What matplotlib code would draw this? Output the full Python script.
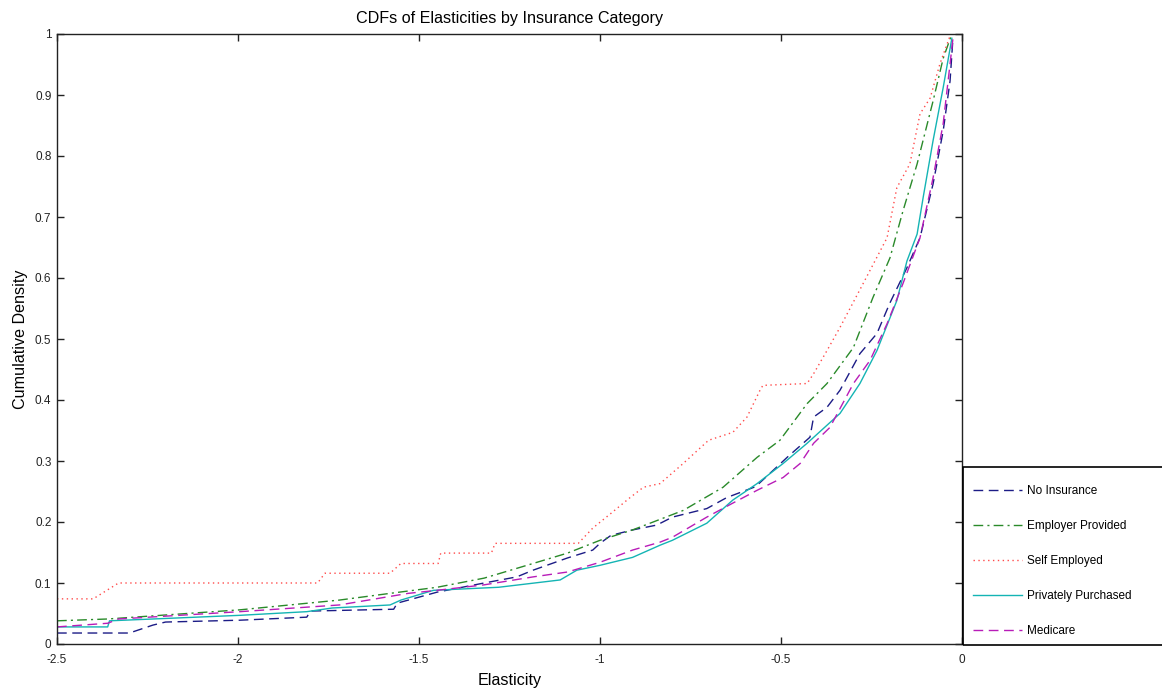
import matplotlib
matplotlib.use('Agg')
import matplotlib.pyplot as plt
import matplotlib.patches as patches

plt.rcParams['font.family'] = ['Liberation Sans', 'DejaVu Sans']

# ================= data =================
TITLE = 'CDFs of Elasticities by Insurance Category'
XLABEL = 'Elasticity'
YLABEL = 'Cumulative Density'

x_ticks = [-2.5, -2.0, -1.5, -1.0, -0.5, 0.0]
x_tick_labels = ['-2.5', '-2', '-1.5', '-1', '-0.5', '0']
y_ticks = [0, 0.1, 0.2, 0.3, 0.4, 0.5, 0.6, 0.7, 0.8, 0.9, 1.0]
y_tick_labels = ['0', '0.1', '0.2', '0.3', '0.4', '0.5', '0.6', '0.7', '0.8', '0.9', '1']

labels = ['No Insurance', 'Employer Provided', 'Self Employed',
          'Privately Purchased', 'Medicare']

no_ins_x = [-2.5, -2.30, -2.235, -2.2, -1.995, -1.81, -1.80, -1.57, -1.56, -1.45,
            -1.32, -1.23, -1.185, -1.09, -1.02, -1.0, -0.97, -0.91, -0.843, -0.80,
            -0.705, -0.65, -0.57, -0.483, -0.42, -0.41, -0.373, -0.337, -0.282,
            -0.235, -0.2, -0.152, -0.116, -0.08, -0.052, -0.033, -0.025]
no_ins_y = [0.018, 0.018, 0.031, 0.036, 0.039, 0.044, 0.054, 0.057, 0.067, 0.085,
            0.10, 0.11, 0.121, 0.141, 0.154, 0.165, 0.178, 0.187, 0.195, 0.208,
            0.222, 0.24, 0.258, 0.306, 0.339, 0.372, 0.388, 0.416, 0.476,
            0.509, 0.558, 0.617, 0.666, 0.754, 0.841, 0.923, 0.993]

employer_x = [-2.5, -2.36, -1.995, -1.72, -1.58, -1.45, -1.32, -1.185, -1.09, -1.0,
              -0.91, -0.77, -0.66, -0.566, -0.503, -0.428, -0.373, -0.30, -0.246,
              -0.199, -0.163, -0.124, -0.08, -0.052, -0.028]
employer_y = [0.038, 0.041, 0.056, 0.072, 0.083, 0.093, 0.108, 0.132, 0.149, 0.17,
              0.187, 0.219, 0.257, 0.306, 0.334, 0.394, 0.427, 0.486, 0.568,
              0.633, 0.71, 0.787, 0.89, 0.96, 1.0]

self_x = [-2.5, -2.40, -2.33, -1.78, -1.76, -1.58, -1.55, -1.447, -1.44, -1.30,
          -1.29, -1.06, -1.02, -0.97, -0.917, -0.88, -0.834, -0.77, -0.70, -0.633,
          -0.594, -0.558, -0.55, -0.428, -0.41, -0.373, -0.337, -0.273, -0.207,
          -0.18, -0.144, -0.116, -0.088, -0.061, -0.033]
self_y = [0.074, 0.074, 0.10, 0.10, 0.116, 0.116, 0.132, 0.132, 0.149, 0.149,
          0.165, 0.165, 0.19, 0.214, 0.24, 0.257, 0.263, 0.296, 0.334, 0.347,
          0.372, 0.416, 0.424, 0.427, 0.443, 0.481, 0.519, 0.591, 0.666,
          0.748, 0.787, 0.869, 0.895, 0.951, 0.997]

private_x = [-2.5, -2.36, -2.355, -1.995, -1.81, -1.74, -1.58, -1.55, -1.46, -1.28,
             -1.11, -1.064, -1.0, -0.91, -0.834, -0.80, -0.705, -0.633, -0.566,
             -0.494, -0.428, -0.337, -0.282, -0.235, -0.18, -0.152, -0.124,
             -0.107, -0.08, -0.052, -0.028]
private_y = [0.028, 0.028, 0.038, 0.047, 0.053, 0.059, 0.064, 0.072, 0.088, 0.093,
             0.105, 0.121, 0.129, 0.142, 0.162, 0.17, 0.198, 0.236, 0.263,
             0.296, 0.329, 0.378, 0.427, 0.481, 0.563, 0.628, 0.672,
             0.733, 0.825, 0.912, 0.993]

medicare_x = [-2.5, -2.36, -2.33, -1.995, -1.72, -1.53, -1.45, -1.32, -1.185, -1.09,
              -1.0, -0.91, -0.834, -0.80, -0.705, -0.633, -0.566, -0.494, -0.447,
              -0.41, -0.365, -0.30, -0.254, -0.207, -0.163, -0.116, -0.08, -0.052,
              -0.033, -0.025]
medicare_y = [0.028, 0.034, 0.041, 0.053, 0.064, 0.083, 0.088, 0.097, 0.11, 0.118,
              0.134, 0.154, 0.167, 0.175, 0.208, 0.231, 0.252, 0.273, 0.296,
              0.329, 0.355, 0.427, 0.465, 0.525, 0.591, 0.666, 0.764, 0.853,
              0.951, 0.993]
# ==================================================================

series = [
    (no_ins_x, no_ins_y, '#1c1c86', (0, (7, 4))),
    (employer_x, employer_y, '#2a8a2a', (0, (7, 3, 1.5, 3))),
    (self_x, self_y, '#ff4a4a', (0, (1, 2.5))),
    (private_x, private_y, '#14b4b4', '-'),
    (medicare_x, medicare_y, '#b81cb8', (0, (7, 4))),
]

W, H = 1162, 696
fig = plt.figure(figsize=(W / 100, H / 100), dpi=100)
ax = fig.add_axes([57 / W, 52 / H, 905 / W, 610 / H])

for (xs, ys, col, ls), lab in zip(series, labels):
    ax.plot(xs, ys, color=col, linestyle=ls, linewidth=1.0, label=lab)

ax.set_xlim(-2.5, 0)
ax.set_ylim(0, 1)
ax.set_xticks(x_ticks)
ax.set_xticklabels(x_tick_labels)
ax.set_yticks(y_ticks)
ax.set_yticklabels(y_tick_labels)
ax.tick_params(direction='in', length=5, width=1, top=True, right=True,
               labelsize=8.5, colors='#222222', pad=4)
ax.tick_params(axis='x', pad=7)
for sp in ax.spines.values():
    sp.set_color('#222222')
    sp.set_linewidth(1.0)

ax.set_title(TITLE, fontsize=11.6, pad=8)
ax.set_xlabel(XLABEL, fontsize=11.6, labelpad=5)
ax.set_ylabel(YLABEL, fontsize=11.6, labelpad=5)

# legend box sits outside the axes, bottom-right, running off the figure edge
frame = patches.Rectangle((963 / W, 51 / H), 0.2, 178 / H, transform=fig.transFigure,
                          fill=False, edgecolor='black', linewidth=1.2)
fig.patches.append(frame)

fig.legend(loc='upper left', bbox_to_anchor=(963 / W, 221 / H), borderaxespad=0,
           fontsize=8.5, frameon=False, handlelength=4.15, handletextpad=0.45,
           labelspacing=1.95, borderpad=0.85)

fig.savefig('out.png', dpi=100, facecolor='white')
